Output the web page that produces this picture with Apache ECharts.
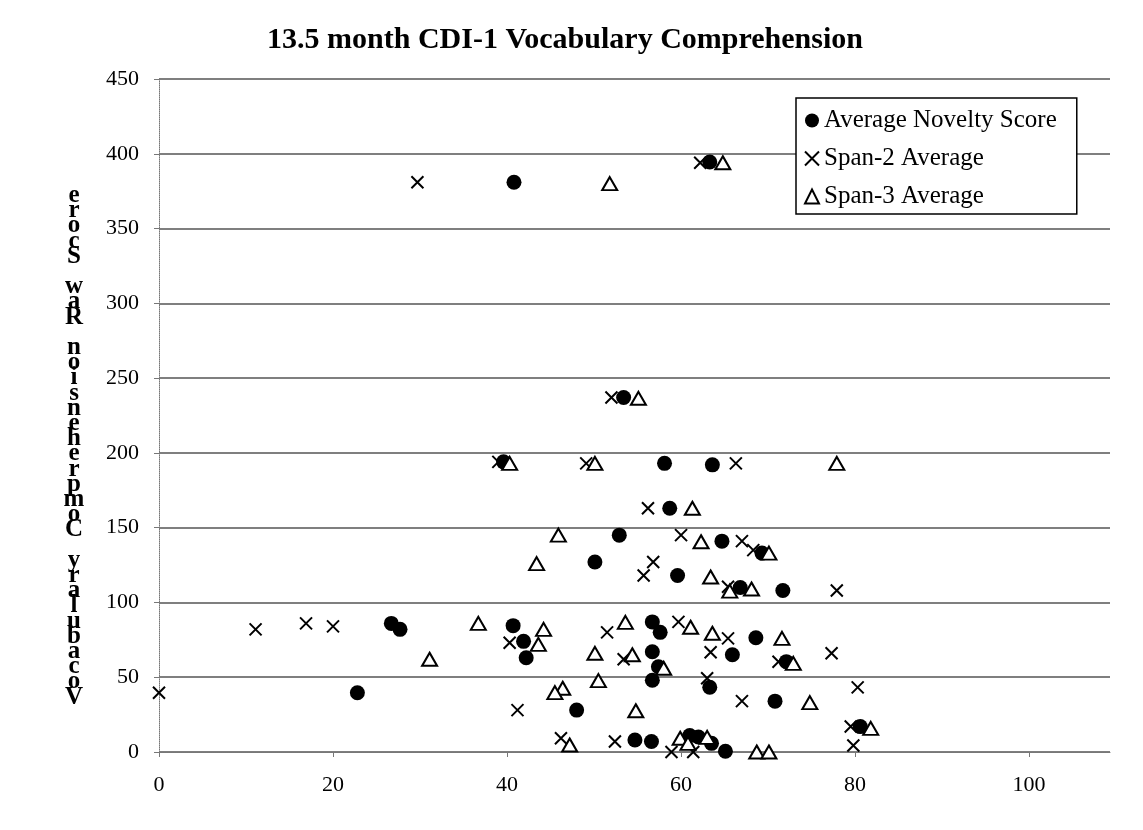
<!DOCTYPE html>
<html>
<head>
<meta charset="utf-8">
<title>13.5 month CDI-1 Vocabulary Comprehension</title>
<script src="https://cdn.jsdelivr.net/npm/echarts@6/dist/echarts.min.js"></script>
<style>
  html, body { margin: 0; padding: 0; background: #fff; }
  #chart { width: 1143px; height: 830px; }
</style>
</head>
<body>
<div id="chart"></div>
<script>
// each point: [score, CDI-1 comprehension raw score]
var noveltyScore = [
  [40.8, 381], [63.3, 394.5], [53.4, 237], [39.6, 194], [58.1, 193], [63.6, 192],
  [58.7, 163], [52.9, 145], [64.7, 141], [69.3, 133], [50.1, 127], [59.6, 118],
  [66.8, 110], [71.7, 108], [26.7, 86], [27.7, 82], [40.7, 84.5], [41.9, 74],
  [42.2, 63], [56.7, 87], [57.6, 80], [68.6, 76.4], [65.9, 65], [56.7, 67],
  [72.1, 60.4], [57.4, 57], [56.7, 48], [63.3, 43.3], [22.8, 39.6], [48.0, 28],
  [70.8, 34], [80.6, 17], [54.7, 8], [56.6, 7], [61.0, 11], [62.0, 10],
  [63.5, 5.8], [65.1, 0.5]
];
var span2Average = [
  [29.7, 381], [62.2, 394], [52.0, 237], [39.0, 194], [49.1, 193], [66.3, 193],
  [56.2, 163], [60.0, 145], [67.0, 141], [68.3, 135], [56.8, 127], [55.7, 118],
  [65.4, 110.5], [77.9, 108], [11.1, 82], [16.9, 86], [20.0, 84], [0, 39.6],
  [40.3, 73], [51.5, 80], [53.4, 62], [59.7, 87], [65.4, 76], [63.4, 66.7],
  [71.2, 60.4], [77.3, 66], [63.0, 49.3], [80.3, 43.2], [41.2, 28], [67.0, 34],
  [79.5, 17], [79.8, 4.3], [46.2, 9.2], [52.4, 7], [58.9, 0], [61.4, 0]
];
var span3Average = [
  [51.8, 380], [64.8, 394], [55.1, 236.5], [40.3, 193], [50.1, 193], [77.9, 193],
  [61.3, 163], [45.9, 145], [62.3, 140.6], [70.1, 133], [43.4, 126], [63.4, 117],
  [65.6, 107.6], [68.1, 109], [36.7, 86], [31.1, 62], [44.2, 82], [43.6, 72],
  [53.6, 86.7], [50.1, 66], [54.4, 65], [61.1, 83.4], [63.6, 79.4], [71.6, 76],
  [72.9, 59.3], [58.0, 56], [50.5, 47.7], [46.4, 42.6], [45.5, 39.7], [54.8, 27.6],
  [74.8, 33], [81.8, 15.8], [47.2, 4.7], [59.9, 9.2], [60.8, 5.8], [63.0, 9.8],
  [68.7, 0], [70.1, 0]
];

var titleText = '13.5 month CDI-1 Vocabulary Comprehension';
var yAxisTitle = 'Vocabulary Comprehension Raw Score';
var seriesNames = ['Average Novelty Score', 'Span-2 Average', 'Span-3 Average'];

var serif = '"Liberation Serif", "DejaVu Serif", serif';
// the axis title is stacked letter by letter, last letter on top
var stackedTitle = yAxisTitle.split('').reverse().join('\n');
var crossPath = 'path://M0,0L10,10M10,0L0,10';

var chart = echarts.init(document.getElementById('chart'));

var option = {
  backgroundColor: '#fff',
  animation: false,
  title: {
    text: titleText,
    left: 560,
    textAlign: 'center',
    top: 20,
    textStyle: { fontFamily: serif, fontWeight: 'bold', fontSize: 30, color: '#000' }
  },
  legend: {
    orient: 'vertical',
    left: 796,
    top: 98,
    padding: [10, 20, 5, 8],
    itemGap: 13,
    itemWidth: 14,
    itemHeight: 14,
    borderColor: '#000',
    borderWidth: 1.5,
    backgroundColor: '#fff',
    data: seriesNames,
    textStyle: { fontFamily: serif, fontSize: 25, color: '#000' }
  },
  grid: { left: 159, right: 33, top: 79, bottom: 78 },
  xAxis: {
    type: 'value',
    min: 0,
    max: 109.3,
    interval: 20,
    axisLine: { lineStyle: { color: '#777', type: 'dotted' } },
    axisTick: { show: true, length: 5, lineStyle: { color: '#777' } },
    splitLine: { show: false },
    axisLabel: { showMaxLabel: false, margin: 22, fontFamily: serif, fontSize: 22, color: '#000' }
  },
  yAxis: {
    type: 'value',
    min: 0,
    max: 450,
    interval: 50,
    axisLine: { show: true, lineStyle: { color: '#777', type: 'dotted' } },
    axisTick: { show: true, length: 5, lineStyle: { color: '#777' } },
    splitLine: { show: true, lineStyle: { color: '#555', width: 1.5 } },
    axisLabel: { margin: 20, fontFamily: serif, fontSize: 22, color: '#000' }
  },
  graphic: [{
    type: 'text',
    x: 74,
    y: 188,
    style: {
      text: stackedTitle,
      font: 'bold 25px "Liberation Serif", serif',
      textAlign: 'center',
      lineHeight: 15.2,
      fill: '#000'
    }
  }],
  series: [
    {
      name: seriesNames[0],
      type: 'scatter',
      data: noveltyScore,
      symbol: 'circle',
      symbolSize: 15,
      itemStyle: { color: '#000', opacity: 1 }
    },
    {
      name: seriesNames[1],
      type: 'scatter',
      data: span2Average,
      symbol: crossPath,
      symbolSize: 12,
      itemStyle: { color: 'transparent', borderColor: '#000', borderWidth: 2, opacity: 1 }
    },
    {
      name: seriesNames[2],
      type: 'scatter',
      data: span3Average,
      symbol: 'triangle',
      symbolSize: [15, 13],
      itemStyle: { color: '#fff', borderColor: '#000', borderWidth: 2, opacity: 1 }
    }
  ]
};

chart.setOption(option);
</script>
</body>
</html>
